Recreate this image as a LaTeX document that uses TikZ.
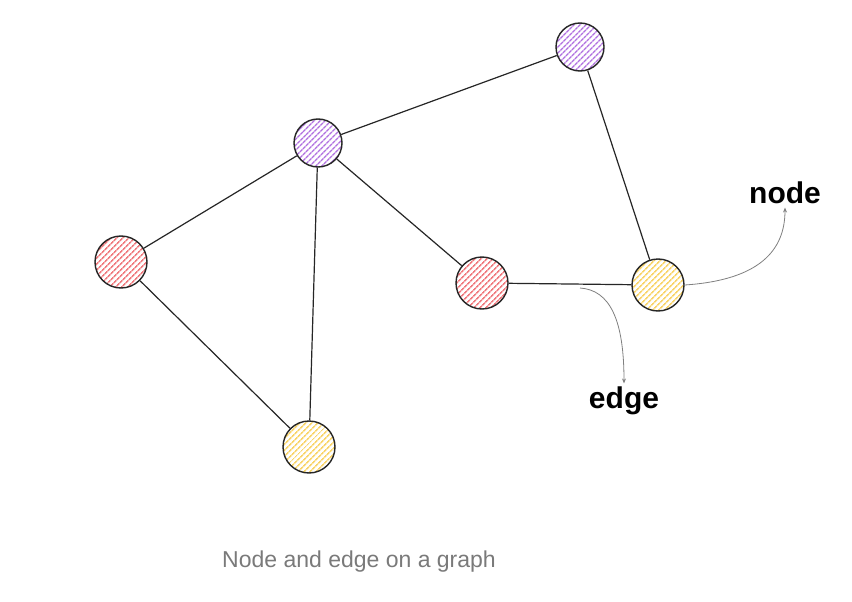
\documentclass[tikz,border=0pt]{standalone}
\usepackage{fontspec}
\setmainfont{Liberation Sans}
\usetikzlibrary{patterns.meta,arrows.meta}
\definecolor{purp}{HTML}{B070E0}
\definecolor{redd}{HTML}{F07A7E}
\definecolor{yell}{HTML}{F9D468}
\definecolor{capgray}{HTML}{7A7A7A}
\tikzset{
  gnode/.style={circle,draw=black!85,line width=1.4pt,minimum size=#1,inner sep=0pt},
  gnode/.default=50pt,
  hatchp/.style={pattern={Lines[angle=45,distance=4pt,line width=1.6pt]},pattern color=purp},
  hatchr/.style={pattern={Lines[angle=45,distance=4pt,line width=1.6pt]},pattern color=redd},
  hatchy/.style={pattern={Lines[angle=45,distance=4pt,line width=1.6pt]},pattern color=yell},
  edgeline/.style={draw=black!85,line width=1.2pt},
  annot/.style={draw=black!50,line width=0.8pt,-{Stealth[length=5pt,width=4pt]}},
  lbl/.style={font=\fontsize{30}{32}\selectfont\bfseries,text=black},
}
\begin{document}
\begin{tikzpicture}[x=1pt,y=-1pt]
\useasboundingbox (0,0) rectangle (852,602);
\fill[white] (0,0) rectangle (852,602);
\node[gnode=48pt,hatchp] (p1) at (580,47) {};
\node[gnode=48pt,hatchp] (p2) at (318,143) {};
\node[gnode=52pt,hatchr] (r1) at (121,262) {};
\node[gnode=52pt,hatchr] (r2) at (482,283) {};
\node[gnode=52pt,hatchy] (y1) at (658,285) {};
\node[gnode=52pt,hatchy] (y2) at (309,447) {};
\draw[edgeline] (p2) -- (p1);
\draw[edgeline] (p2) -- (r1);
\draw[edgeline] (p2) -- (y2);
\draw[edgeline] (p2) -- (r2);
\draw[edgeline] (r1) -- (y2);
\draw[edgeline] (r2) -- (y1);
\draw[edgeline] (p1) -- (y1);
\node[lbl] (nodelbl) at (785,193) {node};
\node[lbl] (edgelbl) at (624,401) {edge};
\coordinate (estart) at (580,288);
\draw[annot] (y1.east) .. controls (760,280) and (785,250) .. (nodelbl.south);
\draw[annot] (estart) .. controls (610,290) and (624,320) .. (edgelbl.north);
\node[font=\fontsize{23}{26}\selectfont,text=capgray] (cap) at (359,562) {Node and edge on a graph};
\end{tikzpicture}
\end{document}
